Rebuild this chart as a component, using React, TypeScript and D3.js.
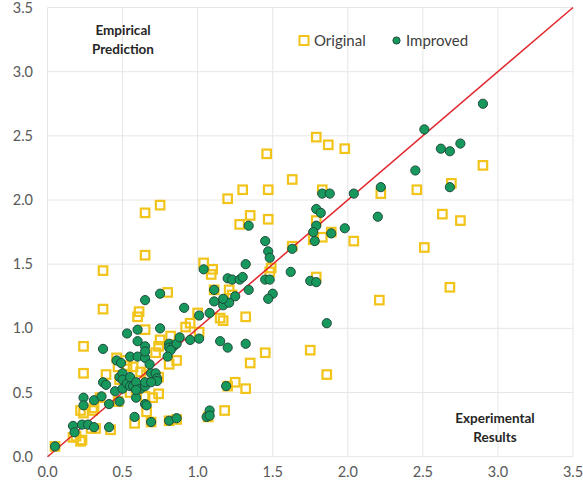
import React from "react";
import * as d3 from "d3";

const originalX = [0.05,0.17,0.22,0.19,0.23,0.29,0.32,0.42,0.24,0.31,0.35,0.22,0.30,0.24,0.24,0.39,0.46,0.47,0.52,0.53,0.57,0.48,0.47,0.59,0.58,0.65,0.66,0.69,0.70,0.74,0.74,0.72,0.74,0.75,0.81,0.86,0.82,0.81,0.86,0.65,0.60,0.61,0.80,0.37,0.37,0.65,0.65,0.75,0.92,0.95,1.00,1.01,0.62,0.66,0.55,1.04,1.10,1.09,1.11,1.21,1.23,1.15,1.17,1.32,1.20,1.30,1.35,1.28,1.46,1.47,1.47,1.49,1.48,1.63,1.63,1.77,1.83,1.79,1.83,1.79,1.87,1.98,1.79,1.89,1.45,1.35,1.75,1.86,1.25,1.32,1.20,1.18,1.07,2.04,2.22,2.46,2.69,2.90,2.63,2.75,2.51,2.68,2.21];
const originalY = [0.08,0.15,0.12,0.16,0.13,0.22,0.22,0.21,0.34,0.38,0.46,0.36,0.36,0.65,0.86,0.64,0.77,0.70,0.75,0.71,0.70,0.60,0.43,0.52,0.26,0.47,0.35,0.27,0.46,0.49,0.62,0.81,0.86,0.91,0.72,0.75,0.94,0.28,0.29,0.99,1.09,1.13,1.28,1.15,1.45,1.57,1.90,1.96,1.01,1.04,1.12,0.97,0.66,0.64,0.50,1.51,1.46,1.42,1.30,1.30,1.26,1.08,1.06,1.09,2.01,2.08,1.88,1.81,2.36,2.08,1.85,1.47,1.44,2.16,1.64,1.69,1.71,1.84,2.08,2.49,2.43,2.40,1.40,1.75,0.81,0.73,0.83,0.64,0.58,0.53,0.55,0.36,0.31,1.68,2.05,2.08,2.13,2.27,1.89,1.84,1.63,1.32,1.22];

const improvedX = [0.05,0.17,0.18,0.23,0.27,0.31,0.41,0.24,0.24,0.31,0.36,0.41,0.48,0.37,0.37,0.39,0.45,0.48,0.50,0.50,0.50,0.53,0.55,0.55,0.57,0.59,0.62,0.65,0.65,0.69,0.72,0.73,0.73,0.69,0.59,0.59,0.65,0.66,0.58,0.69,0.81,0.86,0.46,0.49,0.55,0.60,0.65,0.68,0.53,0.60,0.60,0.65,0.65,0.75,0.65,0.75,0.91,0.81,0.81,0.84,0.86,0.88,0.95,1.01,0.82,0.80,1.01,1.08,1.15,1.20,1.32,1.17,1.21,1.11,1.17,1.25,1.11,1.34,1.50,1.47,1.20,1.23,1.28,1.30,1.45,1.48,1.62,1.75,1.79,1.32,1.04,1.34,1.45,1.47,1.48,1.63,1.79,1.82,1.79,1.77,1.78,1.89,1.83,1.88,1.86,1.19,1.08,1.06,1.08,1.98,2.04,2.20,2.22,2.45,2.51,2.62,2.68,2.75,2.68,2.90];
const improvedY = [0.08,0.24,0.19,0.25,0.25,0.23,0.23,0.46,0.40,0.44,0.47,0.41,0.43,0.84,0.58,0.56,0.51,0.62,0.65,0.60,0.53,0.57,0.62,0.55,0.55,0.58,0.53,0.55,0.58,0.65,0.65,0.61,0.59,0.58,0.46,0.52,0.41,0.40,0.31,0.27,0.28,0.30,0.75,0.73,0.78,0.78,0.77,0.72,0.96,0.99,0.90,0.86,0.82,1.00,1.22,1.27,1.16,0.88,0.85,0.86,0.88,0.93,0.91,0.92,0.83,0.78,1.10,1.12,0.90,0.85,0.88,1.18,1.20,1.21,1.23,1.25,1.30,1.30,1.27,1.23,1.39,1.38,1.38,1.40,1.38,1.38,1.44,1.37,1.36,1.50,1.46,1.80,1.68,1.60,1.55,1.62,1.93,1.90,1.80,1.75,1.68,1.74,2.05,2.05,1.04,0.55,0.36,0.31,0.32,1.78,2.05,1.87,2.10,2.23,2.55,2.40,2.38,2.44,2.10,2.75];

const xTicks = [0, 0.5, 1.0, 1.5, 2.0, 2.5, 3.0, 3.5];
const yTicks = [0, 0.5, 1.0, 1.5, 2.0, 2.5, 3.0, 3.5];
const seriesNames = ["Original", "Improved"];

const W = 583, H = 490;
const FONT = "Lato, 'Open Sans', 'Liberation Sans', sans-serif";
const YELLOW = "#F2C419";
const GREEN = "#17995D";
const GREEN_STROKE = "#1E4B3C";
const RED = "#E0262B";
const GRID = "#E6E6E6";

export default function App() {
  const x = d3.scaleLinear().domain([0, 3.5]).range([47.5, 573]);
  const y = d3.scaleLinear().domain([0, 3.5]).range([456.7, 7.5]);
  const original = originalX.map((v, i) => [v, originalY[i]]);
  const improved = improvedX.map((v, i) => [v, improvedY[i]]);
  const line = d3.line<number[]>().x(d => x(d[0])).y(d => y(d[1]));
  const sq = 8.5;
  return (
    <svg width={W} height={H} style={{ position: "absolute", left: 0, top: 0, background: "#fff" }} fontFamily={FONT}>
      <rect x={0} y={0} width={W} height={H} fill="#fff" />
      {xTicks.map(t => (
        <line key={"gx" + t} x1={x(t)} x2={x(t)} y1={y(0)} y2={y(3.5)} stroke={GRID} strokeWidth={1} />
      ))}
      {yTicks.map(t => (
        <line key={"gy" + t} x1={x(0)} x2={x(3.5)} y1={y(t)} y2={y(t)} stroke={GRID} strokeWidth={1} />
      ))}
      {xTicks.map(t => (
        <text key={"tx" + t} x={x(t)} y={477} textAnchor="middle" fontSize={14.5} fill="#595959">{t.toFixed(1)}</text>
      ))}
      {yTicks.map(t => (
        <text key={"ty" + t} x={33} y={y(t) + 5} textAnchor="end" fontSize={14.5} fill="#595959">{t.toFixed(1)}</text>
      ))}
      {original.map((d, i) => (
        <rect key={"o" + i} x={x(d[0]) - sq / 2} y={y(d[1]) - sq / 2} width={sq} height={sq} fill="none" stroke={YELLOW} strokeWidth={2.2} />
      ))}
      <path d={line([[0, 0], [3.5, 3.5]]) || ""} stroke={RED} strokeWidth={1.5} fill="none" />
      {improved.map((d, i) => (
        <circle key={"m" + i} cx={x(d[0])} cy={y(d[1])} r={4.6} fill={GREEN} stroke={GREEN_STROKE} strokeWidth={1} />
      ))}
      <text x={123} y={35} textAnchor="middle" fontSize={13.5} fontWeight="bold" fill="#262626">Empirical</text>
      <text x={123} y={54} textAnchor="middle" fontSize={13.5} fontWeight="bold" fill="#262626">Prediction</text>
      <text x={495} y={423} textAnchor="middle" fontSize={13.5} fontWeight="bold" fill="#262626">Experimental</text>
      <text x={495} y={442} textAnchor="middle" fontSize={13.5} fontWeight="bold" fill="#262626">Results</text>
      <rect x={304 - 4.5} y={40.5 - 4.5} width={9} height={9} fill="none" stroke={YELLOW} strokeWidth={2} />
      <text x={314} y={46} fontSize={15} fill="#404040">{seriesNames[0]}</text>
      <circle cx={396.5} cy={40.5} r={3.6} fill={GREEN} stroke={GREEN_STROKE} strokeWidth={1} />
      <text x={406} y={46} fontSize={15} fill="#404040">{seriesNames[1]}</text>
    </svg>
  );
}
